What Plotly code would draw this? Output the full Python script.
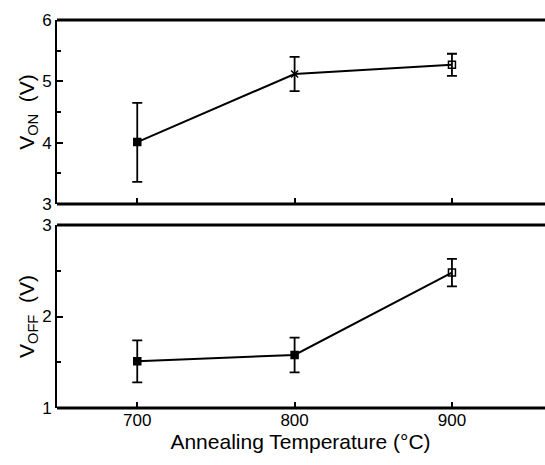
import plotly.graph_objects as go
from plotly.subplots import make_subplots

temps = [700, 800, 900]
von = [4.01, 5.12, 5.27]
von_up = [4.65, 5.40, 5.45]
von_lo = [3.36, 4.84, 5.09]
voff = [1.51, 1.58, 2.48]
voff_up = [1.74, 1.77, 2.63]
voff_lo = [1.28, 1.39, 2.33]

fig = make_subplots(rows=2, cols=1, shared_xaxes=False, vertical_spacing=0.05)

def add(row, y, up, lo, symbols):
    fig.add_trace(go.Scatter(
        x=temps, y=y, mode="lines+markers",
        line=dict(color="black", width=2),
        marker=dict(symbol=symbols, size=7, color="black",
                    line=dict(color="black", width=1.5)),
        error_y=dict(type="data", symmetric=False,
                     array=[u - v for u, v in zip(up, y)],
                     arrayminus=[v - l for v, l in zip(y, lo)],
                     color="black", thickness=1.8, width=5),
        showlegend=False), row=row, col=1)

add(1, von, von_up, von_lo, ["square", "x-thin-open", "square-open"])
add(2, voff, voff_up, voff_lo, ["square", "square", "square-open"])

fam = "Liberation Sans, Arial, sans-serif"
font = dict(family=fam, size=17, color="black")
xcommon = dict(range=[649, 958.5], tickvals=temps, ticks="inside", ticklen=6,
               tickwidth=2, tickcolor="black", showline=True, linecolor="black",
               linewidth=3, mirror=False, showgrid=False, zeroline=False,
               tickfont=font)
fig.update_xaxes(**xcommon, showticklabels=False, row=1, col=1)
fig.update_xaxes(**xcommon, showticklabels=True, row=2, col=1,
                 title=dict(text="Annealing Temperature (°C)",
                            font=dict(family=fam, size=21, color="black"), standoff=4))
ycommon = dict(ticks="inside", ticklen=6, tickwidth=2, tickcolor="black",
               showline=True, linecolor="black", linewidth=2, showgrid=False,
               zeroline=False, tickfont=font, mirror=False,
               minor=dict(ticks="inside", ticklen=4, tickcolor="black", tickwidth=1.5))
fig.update_yaxes(**ycommon, range=[3, 6], tickvals=[3, 4, 5, 6],
                 minor_tickvals=[3.5, 4.5, 5.5], row=1, col=1,
                 title=dict(text="V<sub>ON</sub>  (V)", font=dict(family=fam, size=21, color="black"), standoff=2))
fig.update_yaxes(**ycommon, range=[1, 3], tickvals=[1, 2, 3],
                 minor_tickvals=[1.5, 2.5], row=2, col=1,
                 title=dict(text="V<sub>OFF</sub>  (V)", font=dict(family=fam, size=21, color="black"), standoff=2))

# top frame lines of each panel
for yref in ["y domain", "y2 domain"]:
    fig.add_shape(type="line", xref="paper", yref=yref, x0=0, x1=1.01, y0=1, y1=1,
                  line=dict(color="black", width=3))
fig.update_xaxes(showline=False)
for xr, yr in [("x domain", "y domain"), ("x2 domain", "y2 domain")]:
    fig.add_shape(type="line", xref="paper", yref=yr, x0=0, x1=1.01, y0=0, y1=0,
                  line=dict(color="black", width=3))

fig.update_layout(width=545, height=465, margin=dict(l=57, r=1, t=20, b=57),
                  paper_bgcolor="white", plot_bgcolor="white",
                  xaxis=dict(domain=[0, 1]), yaxis=dict(domain=[0.5258, 1]),
                  xaxis2=dict(domain=[0, 1]), yaxis2=dict(domain=[0, 0.4716]))
fig.write_html("out.html")
